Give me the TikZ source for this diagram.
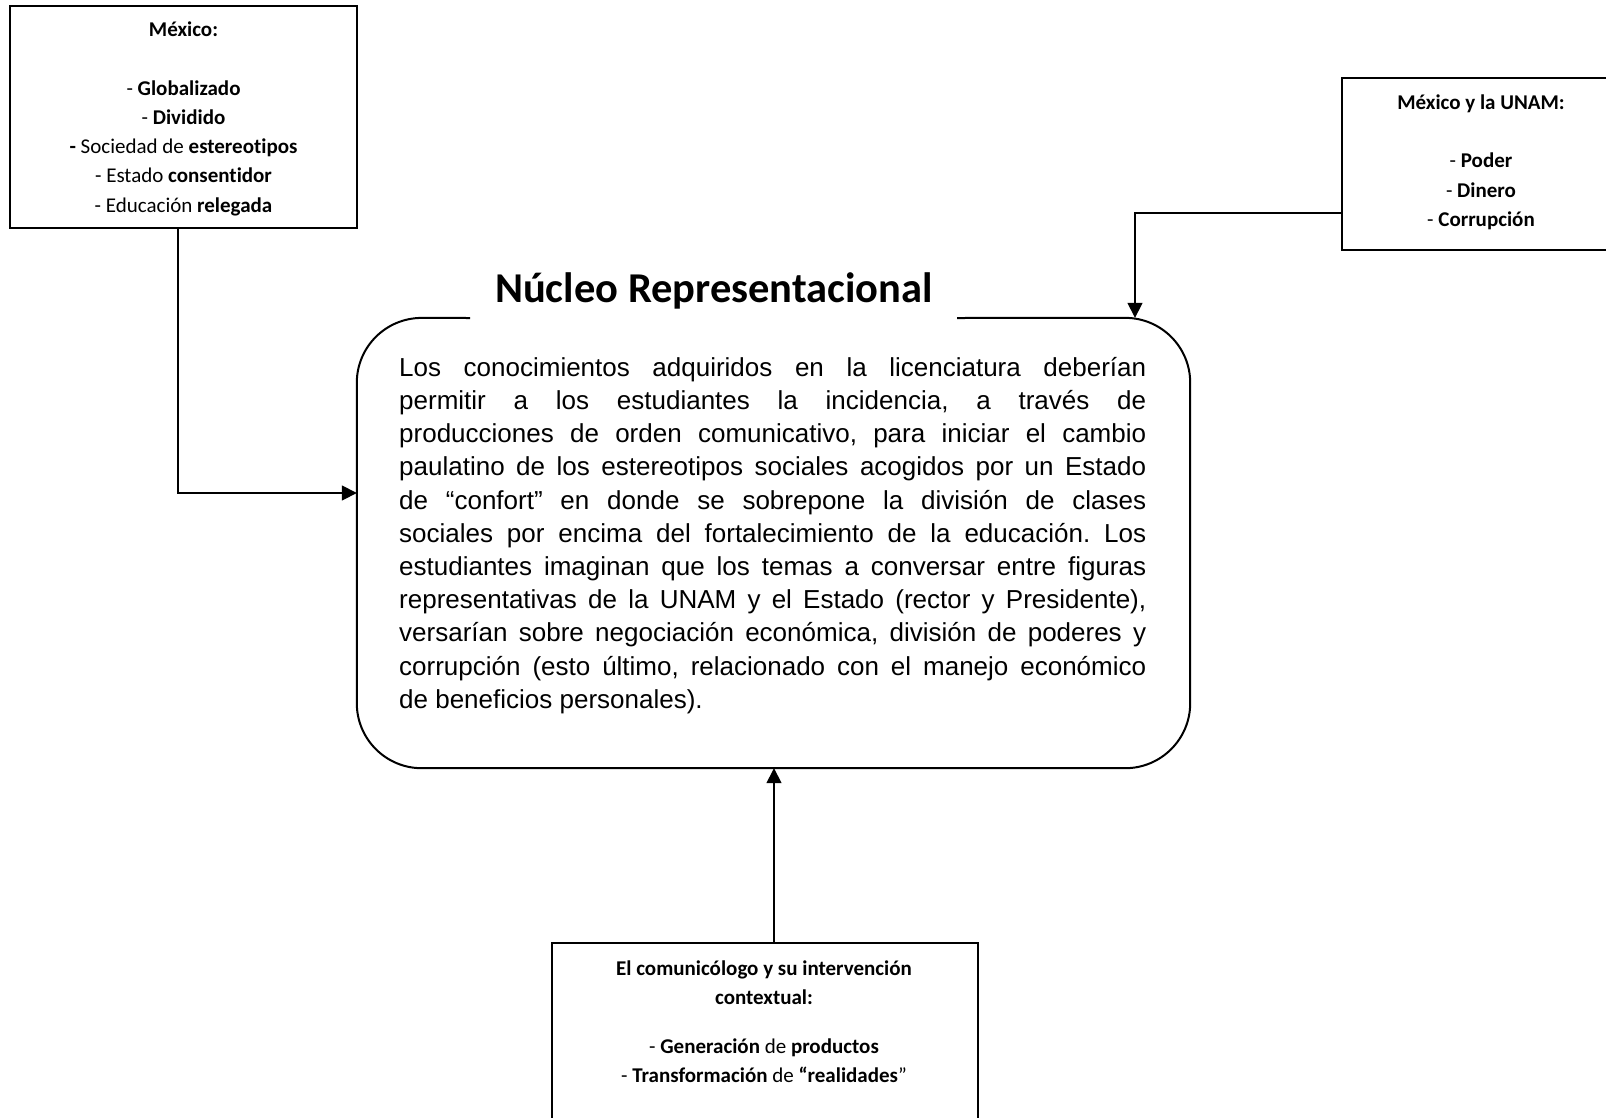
\documentclass[tikz,border=0pt]{standalone}
\usepackage{fontspec}
\setmainfont{Carlito}[Ligatures={NoCommon}]
\newfontfamily\arialf{Liberation Sans}
\usetikzlibrary{arrows.meta}
\frenchspacing
\begin{document}
\begin{tikzpicture}[x=1pt,y=-1pt,
  boxst/.style={draw, line width=1.8pt, inner sep=0pt},
  mainline/.style={line width=2pt, rounded corners=65pt},
  arr/.style={line width=1.6pt, -{Triangle[length=15pt,width=15pt]}},
  lbl/.style={inner sep=0pt, align=center, font=\fontsize{21}{29.2}\selectfont}]
\clip (0,0) rectangle (1606,1117);
\fill[white] (0,0) rectangle (1606,1117);

% left box
\node[boxst, minimum width=347pt, minimum height=222pt] (lbox) at (183.5,117) {};
\node[lbl, anchor=north] (ltext) at (183.5,11.6) {\rule{0pt}{25pt}\textbf{México:}\\[29.2pt]
- \textbf{Globalizado}\\
- \textbf{Dividido}\\
\textbf{-} Sociedad de \textbf{estereotipos}\\
- Estado \textbf{consentidor}\\
- Educación \textbf{relegada}};

% right box
\node[boxst, minimum width=278pt, minimum height=172pt] (rbox) at (1481,164) {};
\node[lbl, anchor=north] (rtext) at (1481,84.3) {\rule{0pt}{25pt}\textbf{México y la UNAM:}\\[29.2pt]
- \textbf{Poder}\\
- \textbf{Dinero}\\
- \textbf{Corrupción}};

% bottom box
\node[boxst, minimum width=426pt, minimum height=187pt] (bbox) at (765,1036.5) {};
\node[lbl, anchor=north] (btext) at (764,950.3) {\rule{0pt}{25pt}\textbf{El comunicólogo y su intervención}\\
\textbf{contextual:}\\[19.2pt]
- \textbf{Generación} de \textbf{productos}\\
- \textbf{Transformación} de \textbf{“realidades}”};

% main rounded box
\node[minimum width=833pt, minimum height=450pt, inner sep=0pt] (main) at (773.5,543) {};
\node[anchor=base, inner sep=0pt, font=\bfseries\fontsize{42.5}{50}\selectfont] (title) at (714,302) {Núcleo Representacional};
\coordinate (gapL) at (470,318);
\coordinate (gapR) at (957,318);
\draw[mainline] (gapR) -- (main.north east) -- (main.south east) -- (main.south west) -- (main.north west) -- (gapL);

\node[anchor=north west, inner sep=0pt, text width=747pt, align=justify,
      font=\arialf\fontsize{26}{33.2}\selectfont] (ntext) at (399,346)
{\hyphenpenalty=10000 \exhyphenpenalty=10000 \tolerance=10000
\rule{0pt}{30pt}Los conocimientos adquiridos en la licenciatura deberían\linebreak
permitir a los estudiantes la incidencia, a través de\linebreak
producciones de orden comunicativo, para iniciar el cambio\linebreak
paulatino de los estereotipos sociales acogidos por un Estado\linebreak
de “confort” en donde se sobrepone la división de clases\linebreak
sociales por encima del fortalecimiento de la educación. Los\linebreak
estudiantes imaginan que los temas a conversar entre figuras\linebreak
representativas de la UNAM y el Estado (rector y Presidente),\linebreak
versarían sobre negociación económica, división de poderes y\linebreak
corrupción (esto último, relacionado con el manejo económico\linebreak
de beneficios personales).};

% connectors
\draw[arr] ([xshift=-5.5pt]lbox.south) |- ([yshift=50pt]main.west);
\draw[arr] ([yshift=-49pt]rbox.west) -| ([xshift=361.5pt]main.north);
\draw[arr] ([xshift=9pt]bbox.north) -- ([xshift=0.5pt]main.south);
\end{tikzpicture}
\end{document}
